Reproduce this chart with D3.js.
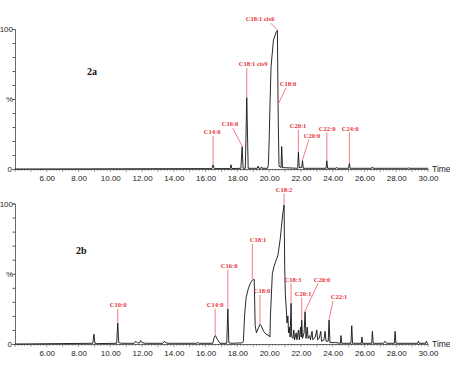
<!DOCTYPE html>
<html>
<head>
<meta charset="utf-8">
<script src="https://cdn.jsdelivr.net/npm/d3@7"></script>
<style>
    body { margin: 0; background: #fff; }
    svg { position: absolute; left: 0; top: 0; }
    .tick text { font-family: "Liberation Sans", Arial, sans-serif; font-size: 8px; fill: #222; }
    .lab { font-family: "Liberation Serif", "Times New Roman", serif; font-size: 6.5px; font-weight: bold; fill: #e8303a; }
</style>
</head>
<body>
<script type="text/javascript">
    // retention time (min) and relative intensity (%)
    var timeA = [4.0, 16.40, 16.47, 16.54, 17.55, 17.6, 17.65, 18.22, 18.3, 18.36, 18.5, 18.59, 18.68,
        19.25, 19.3, 19.35, 19.48, 19.52, 19.56, 19.9, 19.95, 20.0, 20.06, 20.12, 20.27, 20.45, 20.52,
        20.56, 20.58, 20.62, 20.75, 20.79, 20.84, 21.8, 21.84, 21.9, 22.05, 22.1, 22.15, 23.58, 23.63,
        23.68, 24.2, 24.25, 24.3, 25.0, 25.05, 25.1, 26.45, 26.5, 26.55, 28.75, 28.8, 28.85, 30.0];
    var pctA = [0, 0.3, 3, 0.3, 0.3, 3, 0.3, 0.5, 16, 0.5, 0.5, 51, 0.5,
        0.5, 2, 0.5, 0.5, 1.5, 0.5, 0.5, 3, 20, 49, 73, 92, 98, 99,
        46, 30, 2, 1, 16, 1, 0.5, 12, 1, 1, 6, 0.5, 0.5, 6,
        0.5, 0.5, 1.2, 0.5, 0.5, 4, 0.5, 0.5, 1.5, 0.5, 0.5, 1, 0.5, 0.5];

    var timeB = [4.0, 8.9, 8.97, 9.03, 9.2, 10.40, 10.47, 10.53, 10.7, 11.5, 11.6, 11.7, 11.85, 11.9,
        12.0, 12.2, 13.3, 13.4, 13.5, 13.7, 15.4, 15.5, 15.6, 16.45, 16.55, 16.62, 16.75, 16.9, 17.33,
        17.4, 17.46, 17.6, 18.3, 18.38, 18.45, 18.55, 18.7, 18.85, 19.0, 19.06, 19.12, 19.2, 19.35,
        19.42, 19.5, 19.65, 19.8, 20.0, 20.05, 20.08, 20.2, 20.3, 20.45, 20.55, 20.7, 20.85, 20.94,
        20.98, 21.02, 21.08, 21.12, 21.18, 21.22, 21.28, 21.32, 21.38, 21.42, 21.5, 21.55, 21.6, 21.7,
        21.75, 21.85, 21.9, 21.98, 22.02, 22.05, 22.1, 22.2, 22.26, 22.32, 22.4, 22.45, 22.55, 22.6,
        22.7, 22.75, 22.9, 23.0, 23.05, 23.15, 23.25, 23.3, 23.45, 23.52, 23.58, 23.72, 23.77, 23.83,
        24.2, 24.48, 24.52, 24.57, 25.15, 25.2, 25.25, 25.8, 25.84, 25.88, 26.46, 26.5, 26.55, 27.2,
        27.3, 27.4, 27.88, 27.93, 27.98, 29.35, 29.4, 29.45, 29.85, 29.9, 29.95, 30.0];
    var pctB = [0, 0.5, 7, 0.5, 0.3, 0.5, 15, 1, 0.5, 0.5, 2, 0.8, 0.8, 2.5,
        1, 0.5, 0.5, 2, 0.8, 0.5, 0.5, 1, 0.5, 0.5, 5, 6, 3, 0.5, 0.5,
        25, 1, 0.5, 0.8, 2, 20, 33, 40, 44, 46, 46, 13, 8, 12,
        14, 13, 9, 7, 6, 5, 20, 50, 55, 60, 63, 75, 92, 99,
        54, 35, 25, 15, 20, 8, 12, 5, 29, 5, 4, 10, 3, 8,
        3, 10, 3, 12, 5, 17, 4, 8, 23, 4, 12, 4, 6, 3,
        9, 3, 5, 10, 3, 4, 9, 2, 3, 9, 2, 2, 17, 1,
        1, 0.5, 6, 0.5, 0.5, 13, 0.5, 0.5, 5, 0.5, 0.5, 9, 0.5, 0.5,
        2, 0.5, 0.5, 9, 0.5, 0.5, 2, 0.5, 0.5, 2, 0.5, 0.5];

    // peak labels: name, peak (time, %), label centre (time, %), leader start time
    var namesA = ["C14:0", "C16:0", "C18:1 cis9", "C18:1 cis6", "C18:0", "C20:1", "C20:0", "C22:0", "C24:0"];
    var peakTA = [16.47, 18.3, 18.59, 20.52, 20.57, 21.84, 22.1, 23.63, 25.05];
    var peakPA = [3, 16, 51, 99, 46, 12, 6, 6, 4];
    var labTA = [16.41, 17.54, 18.99, 19.43, 21.19, 21.82, 22.7, 23.65, 25.1];
    var labPA = [26.4, 32, 75, 107, 61, 31, 24, 29, 29];
    var lineTA = [16.47, 17.71, 18.59, 20.1, 21.08, 21.84, 22.5, 23.63, 25.05];

    var namesB = ["C10:0", "C14:0", "C16:0", "C18:1", "C18:0", "C18:2", "C18:3", "C20:1", "C20:0", "C22:1"];
    var peakTB = [10.47, 16.6, 17.4, 18.94, 19.42, 20.94, 21.38, 22.05, 22.26, 23.77];
    var peakPB = [15, 6, 25, 46, 14, 99, 29, 17, 23, 17];
    var labTB = [10.49, 16.6, 17.48, 19.3, 19.55, 20.94, 21.5, 22.14, 23.33, 24.4];
    var labPB = [27.8, 27.8, 55.6, 74, 37.8, 110, 46, 36, 46, 33.5];
    var lineTB = [10.47, 16.6, 17.4, 18.94, 19.42, 20.94, 21.38, 22.05, 23.08, 24.02];

    var xTicks = [6, 8, 10, 12, 14, 16, 18, 20, 22, 24, 26, 28, 30];
    var yTicks = [0, 10, 20, 30, 40, 50, 60, 70, 80, 90, 100];

    var svg = d3.select('body').append('svg')
        .attr('width', 450).attr('height', 366);

    var x = d3.scaleLinear().domain([4, 30]).range([15, 428]);

    function panel(opts) {
        var y = d3.scaleLinear().domain([0, 100]).range([opts.bottom, opts.top]);
        var g = svg.append('g');

        // x axis: labelled every 2 min, minor ticks every 0.2 min
        var minor = d3.range(4, 30.01, 0.2);
        g.selectAll('line.minor').data(minor).enter().append('line')
            .attr('x1', function(d) { return x(d); }).attr('x2', function(d) { return x(d); })
            .attr('y1', opts.bottom)
            .attr('y2', function(d) { return opts.bottom + (Math.abs(d - Math.round(d)) < 0.01 ? 3 : 1.8); })
            .attr('stroke', '#555').attr('stroke-width', 0.6);

        var xAxis = d3.axisBottom(x).tickValues(xTicks).tickSize(0).tickPadding(6)
            .tickFormat(d3.format('.2f'));
        g.append('g').attr('transform', 'translate(0,' + opts.bottom + ')').call(xAxis)
            .call(function(s) { s.select('.domain').attr('stroke', '#444').attr('stroke-width', 0.8); });

        g.append('text').attr('x', 432).attr('y', opts.bottom + 3)
            .attr('font-family', 'Liberation Sans, Arial, sans-serif').attr('font-size', 8.5)
            .attr('fill', '#222').text('Time');

        // y axis
        var yAxis = d3.axisLeft(y).tickValues(yTicks).tickSize(2.5).tickFormat('');
        g.append('g').attr('transform', 'translate(15,0)').call(yAxis)
            .call(function(s) {
                s.select('.domain').attr('stroke', '#444').attr('stroke-width', 0.8);
                s.selectAll('.tick line').attr('stroke', '#555');
            });
        var lblFont = 'Liberation Sans, Arial, sans-serif';
        g.append('text').attr('x', 13).attr('y', y(100) + 3).attr('text-anchor', 'end')
            .attr('font-family', lblFont).attr('font-size', 8).attr('fill', '#222').text('100');
        g.append('text').attr('x', 12).attr('y', y(0) + 3).attr('text-anchor', 'end')
            .attr('font-family', lblFont).attr('font-size', 8).attr('fill', '#222').text('0');
        g.append('text').attr('x', 13).attr('y', y(50) + 3).attr('text-anchor', 'end')
            .attr('font-family', lblFont).attr('font-size', 8).attr('fill', '#222').text('%');

        g.append('text').attr('x', opts.tagX).attr('y', opts.tagY)
            .attr('font-family', 'Liberation Serif, Times New Roman, serif').attr('font-weight', 'bold')
            .attr('font-size', 10).attr('fill', '#111').text(opts.tag);

        // trace
        var pts = d3.zip(opts.t, opts.p);
        var line = d3.line().x(function(d) { return x(d[0]); }).y(function(d) { return y(d[1]); });
        g.append('path').datum(pts).attr('d', line)
            .attr('fill', 'none').attr('stroke', '#111').attr('stroke-width', 0.9)
            .attr('stroke-linejoin', 'round');

        // annotations
        var ann = opts.names.map(function(n, i) {
            return { name: n, pt: opts.pt[i], pp: opts.pp[i], lt: opts.lt[i], lp: opts.lp[i], st: opts.st[i] };
        });
        g.selectAll('line.lead').data(ann).enter().append('line')
            .attr('x1', function(d) { return x(d.st); }).attr('y1', function(d) { return y(d.lp) + 4; })
            .attr('x2', function(d) { return x(d.pt); }).attr('y2', function(d) { return y(d.pp) - 0.5; })
            .attr('stroke', '#ee5a62').attr('stroke-width', 0.8);
        g.selectAll('text.lab').data(ann).enter().append('text')
            .attr('class', 'lab')
            .attr('x', function(d) { return x(d.lt); }).attr('y', function(d) { return y(d.lp) + 2.2; })
            .attr('text-anchor', 'middle').text(function(d) { return d.name; });
    }

    panel({ top: 29, bottom: 169, t: timeA, p: pctA, names: namesA, pt: peakTA, pp: peakPA,
        lt: labTA, lp: labPA, st: lineTA, tag: '2a', tagX: 87, tagY: 75 });
    panel({ top: 203.5, bottom: 344, t: timeB, p: pctB, names: namesB, pt: peakTB, pp: peakPB,
        lt: labTB, lp: labPB, st: lineTB, tag: '2b', tagX: 76, tagY: 254 });
</script>
</body>
</html>
